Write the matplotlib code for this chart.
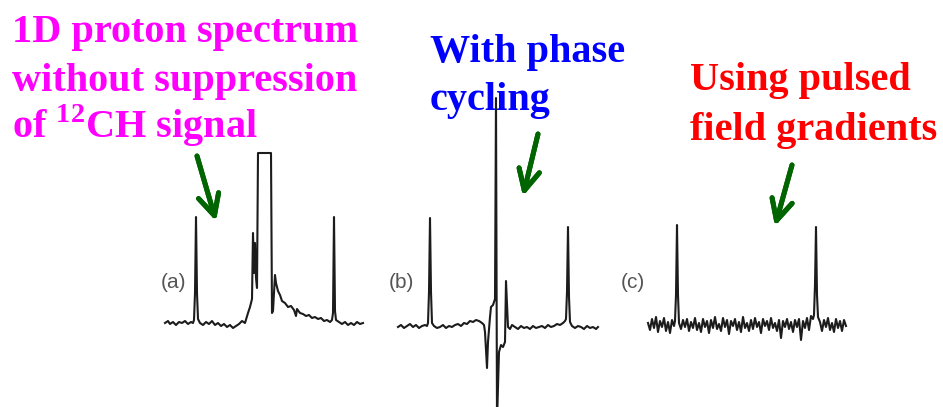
import numpy as np
import matplotlib.pyplot as plt

# spectrum traces (frequency offset, intensity)
a_freq = [5, 8, 10, 13, 16, 19, 22, 25, 28, 31, 33, 34, 35, 36, 37, 38,
          40, 43, 46, 49, 52, 55, 58, 61, 64, 67, 70, 73, 76, 79, 82, 85, 88,
          90, 92, 93, 94, 95, 96, 97, 98, 111, 112, 113, 115, 116, 118, 120,
          122, 125, 128, 131, 134, 136, 137, 140, 143, 146, 149, 152, 155, 158,
          161, 164, 167, 170, 172, 173, 174, 175, 176, 179, 182, 185, 188, 191,
          194, 197, 200, 203]
a_int = [0, 2, -1, 1, -2, 1, 0, 2, -1, 1, 0, 3, 30, 106, 30, 4,
         0, -2, 1, -1, 2, -2, 0, -3, -1, -4, -2, -5, -3, -1, 2, 0, 10,
         16, 24, 90, 50, 80, 45, 35, 170, 170, 10, 12, 48, 40, 32, 28,
         22, 20, 16, 17, 13, 7, 14, 10, 9, 7, 8, 5, 6, 4,
         5, 2, 3, 1, 3, 10, 106, 12, 3, 1, -1, 1, -2, 0,
         -2, 1, -1, 0]

b_freq = [3, 6, 9, 12, 15, 18, 21, 24, 27, 30, 32, 33, 34, 35, 36, 37,
          39, 42, 45, 48, 51, 54, 57, 60, 63, 66, 69, 72, 75, 78, 81, 84, 87,
          89, 90, 92, 93, 95, 96, 98, 100, 101, 102, 104, 106, 108, 110, 111,
          113, 115, 117, 120, 123, 126, 129, 132, 135, 138, 141, 144, 147, 150,
          153, 156, 159, 162, 165, 168, 170, 171, 172, 173, 174, 175, 177, 180,
          183, 186, 189, 192, 195, 198, 201, 203]
b_int = [0, 2, -1, 1, 3, 0, 2, -1, 1, 2, 1, 4, 35, 109, 35, 4,
         1, -1, 0, 2, -1, 1, 0, 2, 3, 1, 4, 3, 6, 5, 7, 6, 4,
         2, -5, -41, -15, 10, 20, 22, 28, 229, -95, -25, -18, -20, -15, 46,
         0, -2, 2, 0, -2, 1, -1, 0, -2, 1, -1, 0, 1, -1,
         2, 0, 1, 3, 2, 4, 6, 8, 35, 100, 30, 5, 1, -1,
         1, 0, -2, 1, -1, 0, -2, 0]

# panel (c): noisy baseline around two sharp lines
c_noise_left = [2, -5, 6, -3, 8, -7, 4, -2, 7, -6, 3, -8, 5, -1]
c_peak1_freq = [30, 31, 32, 33, 34]
c_peak1_int = [4, 30, 100, 30, 2]
c_noise_mid = [-4, 5, -2, 6, -6, 3, -3, 7, -5, 2, -7, 6, -2, 4, -8, 5, -3,
               8, -4, 1, -6, 7, -2, 5, -9, 4, -1, 6, -5, 3, -7, 8, -3, 2,
               -6, 5, -4, 7, -2, 3, -8, 6, -1, 4, -5, 7, -3, 2, -6, 5, -13,
               4, -2, 6, -4, 3, -7, 5, -2, 6, -15, 4, -3, 7, -5, 9]
c_peak2_freq = [168, 169, 170, 171, 172, 173]
c_peak2_int = [6, 10, 40, 98, 30, 8]
c_noise_right = [3, -6, 5, -2, 7, -5, 2, -7, 6, -3, 4, -6, 5, -1]

c_freq = (list(3 + 2 * np.arange(len(c_noise_left))) + c_peak1_freq
          + list(36 + 2 * np.arange(len(c_noise_mid))) + c_peak2_freq
          + list(175 + 2 * np.arange(len(c_noise_right))))
c_int = c_noise_left + c_peak1_int + c_noise_mid + c_peak2_int + c_noise_right

W, H = 943, 407
fig = plt.figure(figsize=(W / 100, H / 100), dpi=100)

def panel(x0, width, base, freq, inten, label, lab_x):
    ax = fig.add_axes([x0 / W, 0, width / W, 1])
    ax.plot(freq, inten, color='#1c1c1c', lw=1.5)
    ax.set_xlim(0, width)
    ax.set_ylim(base - H, base)
    ax.set_axis_off()
    fig.text(lab_x / W, 1 - 283 / H, label, ha='center', va='center',
             fontsize=15, color='#555555', family='Liberation Sans')

panel(160, 210, 323, a_freq, a_int, '(a)', 174)
panel(395, 210, 327, b_freq, b_int, '(b)', 401)
panel(645, 210, 325, c_freq, c_int, '(c)', 633)

plt.rcParams['mathtext.fontset'] = 'custom'
plt.rcParams['mathtext.rm'] = 'Liberation Serif:bold'
plt.rcParams['mathtext.bf'] = 'Liberation Serif:bold'

def lines(x, ys, texts, color):
    for y, t in zip(ys, texts):
        fig.text(x / W, 1 - y / H, t, ha='left', va='baseline', fontsize=29,
                 fontweight='bold', family='Liberation Serif', color=color)

lines(12, [42, 91, 138], ['1D proton spectrum', 'without suppression',
                          r'of $^{12}$CH signal'], '#ff00ff')
lines(430, [62, 110], ['With phase', 'cycling'], '#0000ff')
lines(690, [90, 140], ['Using pulsed', 'field gradients'], '#ff0000')

green = '#006400'
for tail, tip in [((197, 156), (216, 221)), ((538, 134), (523, 196)),
                  ((792, 165), (775, 226))]:
    fig.add_artist(plt.annotate('', xy=(tip[0], H - tip[1]),
                                xytext=(tail[0], H - tail[1]),
                                xycoords='figure pixels',
                                arrowprops=dict(arrowstyle='->,head_length=1.5,head_width=0.75',
                                                lw=3.6, color=green,
                                                shrinkA=0, shrinkB=0)))

plt.savefig('out.png', dpi=100)
